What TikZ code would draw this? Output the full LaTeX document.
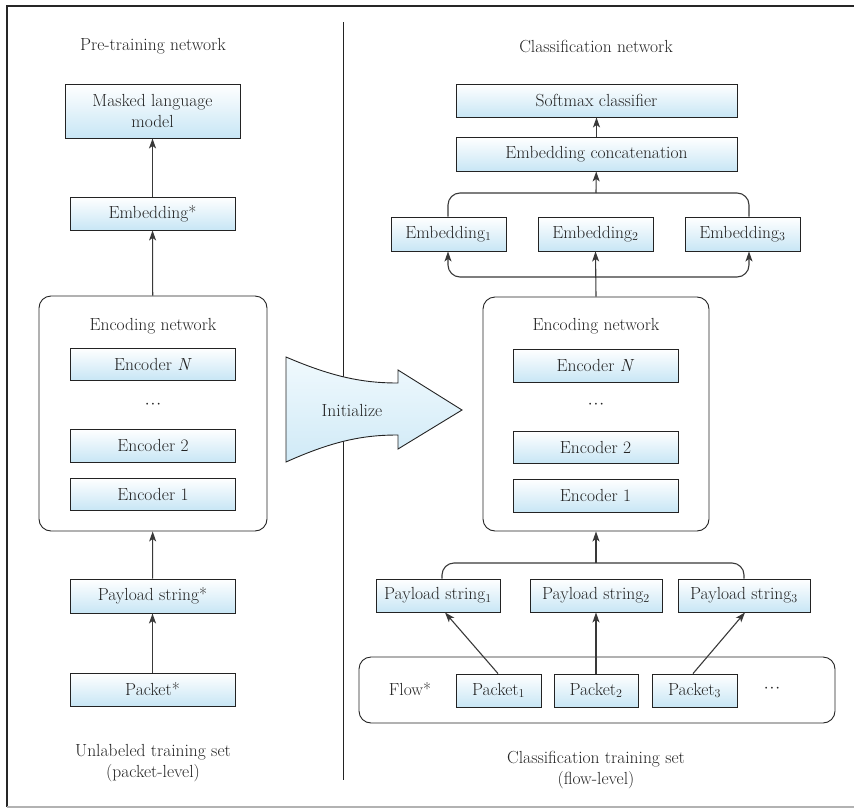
\documentclass[tikz,border=0pt]{standalone}
\usetikzlibrary{arrows.meta,calc}
\definecolor{boxblue}{RGB}{200,230,245}
\definecolor{arrowlight}{RGB}{240,249,253}
\definecolor{arrowblue}{RGB}{208,234,247}
\definecolor{inkgray}{RGB}{35,35,35}
\newcommand{\middots}{${\cdot}\mkern1mu{\cdot}\mkern1mu{\cdot}$}
\begin{document}
\begin{tikzpicture}[x=1pt,y=-1pt,
  txt/.style={font=\fontsize{17.5}{21}\selectfont, text=inkgray, inner sep=0pt, align=center},
  blk/.style={txt, draw=inkgray, line width=0.9pt, top color=white, bottom color=boxblue,
              minimum height=33pt, minimum width=165pt},
  grp/.style={draw=inkgray, line width=0.9pt, rounded corners=12pt},
  conn/.style={draw=inkgray!90, line width=1.1pt},
  arr/.style={conn, -{Stealth[length=10pt,width=7pt,inset=2.5pt]}}]
\useasboundingbox (0,0) rectangle (854,811);

% frame and divider
\draw[line width=1.4pt, black!85] (7,807) -- (7,6) -- (854,6);
\draw[line width=1.2pt, black!30] (7,807) -- (854,807);
\coordinate (divtop) at (343,22);
\coordinate (divbot) at (343,780);
\draw[line width=1pt, inkgray] (divtop) -- (divbot);

% ---------------- pre-training side ----------------
\node[txt] (ptitle) at (153,46) {Pre-training network};
\node[blk, minimum width=175pt, minimum height=54pt] (mlm) at (152.5,111) {Masked language\\model};
\node[blk] (embs) at (152.5,213.5) {Embedding*};
\node[grp, minimum width=228pt, minimum height=235pt] (encL) at (153,413.5) {};
\node[txt] (encLt) at (153,326) {Encoding network};
\node[blk, minimum height=32pt] (encLN) at (153,364) {Encoder \textit{N}};
\node[txt] (encLd) at (153,405) {\middots};
\node[blk] (encL2) at (153,445.5) {Encoder 2};
\node[blk, minimum height=32pt] (encL1) at (153,494) {Encoder 1};
\node[blk, minimum height=34pt] (pays) at (152.5,596) {Payload string*};
\node[blk] (pkts) at (152.5,689.5) {Packet*};
\node[txt] (unl) at (153,763) {Unlabeled training set\\(packet-level)};

\draw[arr] (embs) -- (mlm);
\draw[arr] (encL) -- (embs);
\draw[arr] (pays) -- (encL);
\draw[arr] (pkts) -- (pays);

% ---------------- initialize arrow ----------------
\draw[draw=inkgray, line width=0.9pt, top color=arrowlight, bottom color=arrowblue]
  (286,357) .. controls (335,378) and (365,383) .. (398,383) -- (398,370) -- (462,410)
  -- (398,449) -- (398,435) .. controls (365,435) and (335,440) .. (286,462) -- cycle;
\node[txt] (init) at (352,410) {Initialize};

% ---------------- classification side ----------------
\node[txt] (ctitle) at (596,46) {Classification network};
\node[blk, minimum width=281pt] (soft) at (596.5,100.5) {Softmax classifier};
\node[blk, minimum width=281pt, minimum height=34pt] (cat) at (596.5,154) {Embedding concatenation};
\node[blk, minimum width=115pt, minimum height=34pt] (e1) at (448.5,234) {Embedding$_1$};
\node[blk, minimum width=115pt, minimum height=34pt] (e2) at (595.5,234) {Embedding$_2$};
\node[blk, minimum width=115pt, minimum height=34pt] (e3) at (742.5,234) {Embedding$_3$};
\node[grp, minimum width=226pt, minimum height=234pt] (encR) at (596,414) {};
\node[txt] (encRt) at (596,326) {Encoding network};
\node[blk] (encRN) at (595.5,365.5) {Encoder \textit{N}};
\node[txt] (encRd) at (596,405) {\middots};
\node[blk, minimum height=32pt] (encR2) at (595.5,447) {Encoder 2};
\node[blk] (encR1) at (595.5,495.5) {Encoder 1};
\node[blk, minimum width=124pt] (p1) at (438,595.5) {Payload string$_1$};
\node[blk, minimum width=132pt] (p2) at (596,595.5) {Payload string$_2$};
\node[blk, minimum width=132pt] (p3) at (744,595.5) {Payload string$_3$};
\node[grp, minimum width=476pt, minimum height=66pt] (flow) at (597,690) {};
\node[txt] (flowt) at (410,689) {Flow*};
\node[blk, minimum width=85pt] (k1) at (498.5,690.5) {Packet$_1$};
\node[blk, minimum width=84pt] (k2) at (596,690.5) {Packet$_2$};
\node[blk, minimum width=85pt] (k3) at (694.5,690.5) {Packet$_3$};
\node[txt] (kd) at (772,689) {\middots};
\node[txt] (cls) at (596,770) {Classification training set\\(flow-level)};

\draw[arr] (cat) -- (soft);

% merge of the three embeddings
\coordinate (ubr) at (596,193);
\draw[conn, rounded corners=12pt] ([xshift=-0.5pt]e1.north) |- (ubr) -| ([xshift=6.5pt]e3.north);
\draw[arr] (ubr) -- (cat);

% split of the encoder output
\coordinate (lbr) at (596,277);
\draw[arr, rounded corners=12pt] (lbr) -| ([xshift=-0.5pt]e1.south);
\draw[arr, rounded corners=12pt] (lbr) -| ([xshift=6.5pt]e3.south);
\draw[arr] (encR.north) -- (e2.south);

% merge of the payload strings
\coordinate (pbr) at (596,563);
\draw[conn, rounded corners=12pt] ([xshift=4pt]p1.north) |- (pbr) -| (p3.north);
\draw[arr] (pbr) -- (encR.south);

% packets to payload strings
\draw[arr] ([xshift=-0.5pt]k1.north) -- ([xshift=7pt]p1.south);
\draw[arr] (k2) -- (p2);
\draw[arr] ([xshift=-1.5pt]k3.north) -- ([xshift=1pt]p3.south);
\end{tikzpicture}
\end{document}
